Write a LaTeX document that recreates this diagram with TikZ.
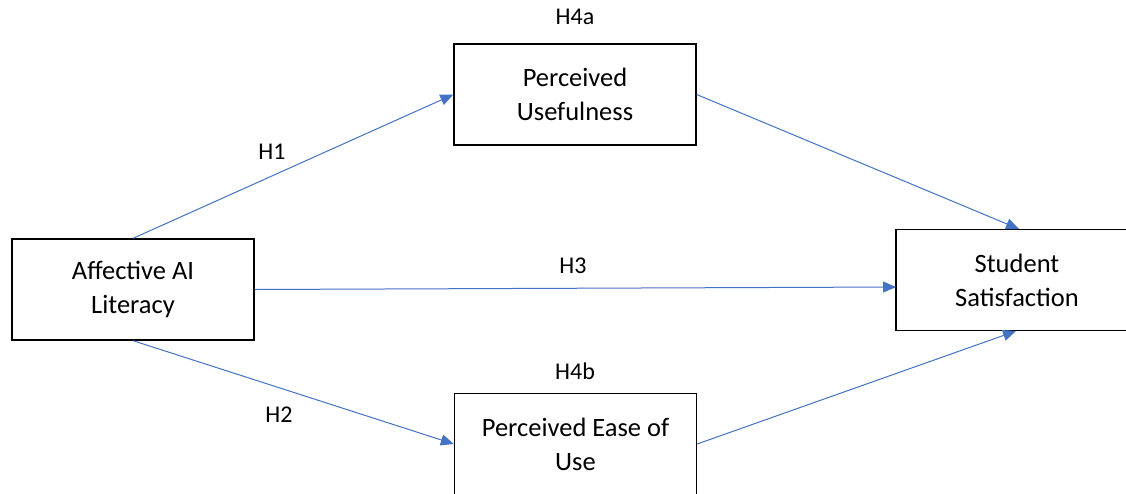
\documentclass[tikz,border=0pt]{standalone}
\usepackage{fontspec}
\setmainfont{Carlito}
\usetikzlibrary{arrows.meta}
\definecolor{linkblue}{RGB}{68,114,196}
\tikzset{
  box/.style={draw=black, line width=1.3pt, fill=white, minimum width=242pt, minimum height=101pt,
    align=center, inner sep=0pt, font=\fontsize{26.5pt}{34pt}\selectfont},
  hlabel/.style={font=\fontsize{24pt}{28pt}\selectfont, inner sep=0pt},
  link/.style={draw=linkblue, line width=1pt, -{Triangle[length=13pt,width=11pt]}}
}
\begin{document}
\begin{tikzpicture}[x=1pt,y=-1pt]
\useasboundingbox (0,0) rectangle (1126,493);
\clip (0,0) rectangle (1126,493);
\fill[white] (0,0) rectangle (1126,493);
\node[box] (aff) at (133,289.5) {Affective AI\\Literacy};
\node[box] (pu) at (575,94.5) {Perceived\\Usefulness};
\node[box] (ss) at (1017,280) {Student\\Satisfaction};
\node[box] (peou) at (575.5,444) {Perceived Ease of\\Use};
\coordinate (ssTop) at (1019,229);
\coordinate (ssBot) at (1016,331);
\coordinate (ssLeft) at (896,287);
\draw[link] (aff.north) -- (pu.west);
\draw[link] (pu.east) -- (ssTop);
\draw[link] (aff.east) -- (ssLeft);
\draw[link] (aff.south) -- (peou.west);
\draw[link] (peou.east) -- (ssBot);
\node[hlabel] (h4a) at (575,17) {H4a};
\node[hlabel] (h1) at (272,152) {H1};
\node[hlabel] (h3) at (573,266) {H3};
\node[hlabel] (h4b) at (575,371) {H4b};
\node[hlabel] (h2) at (279,415) {H2};
\end{tikzpicture}
\end{document}
